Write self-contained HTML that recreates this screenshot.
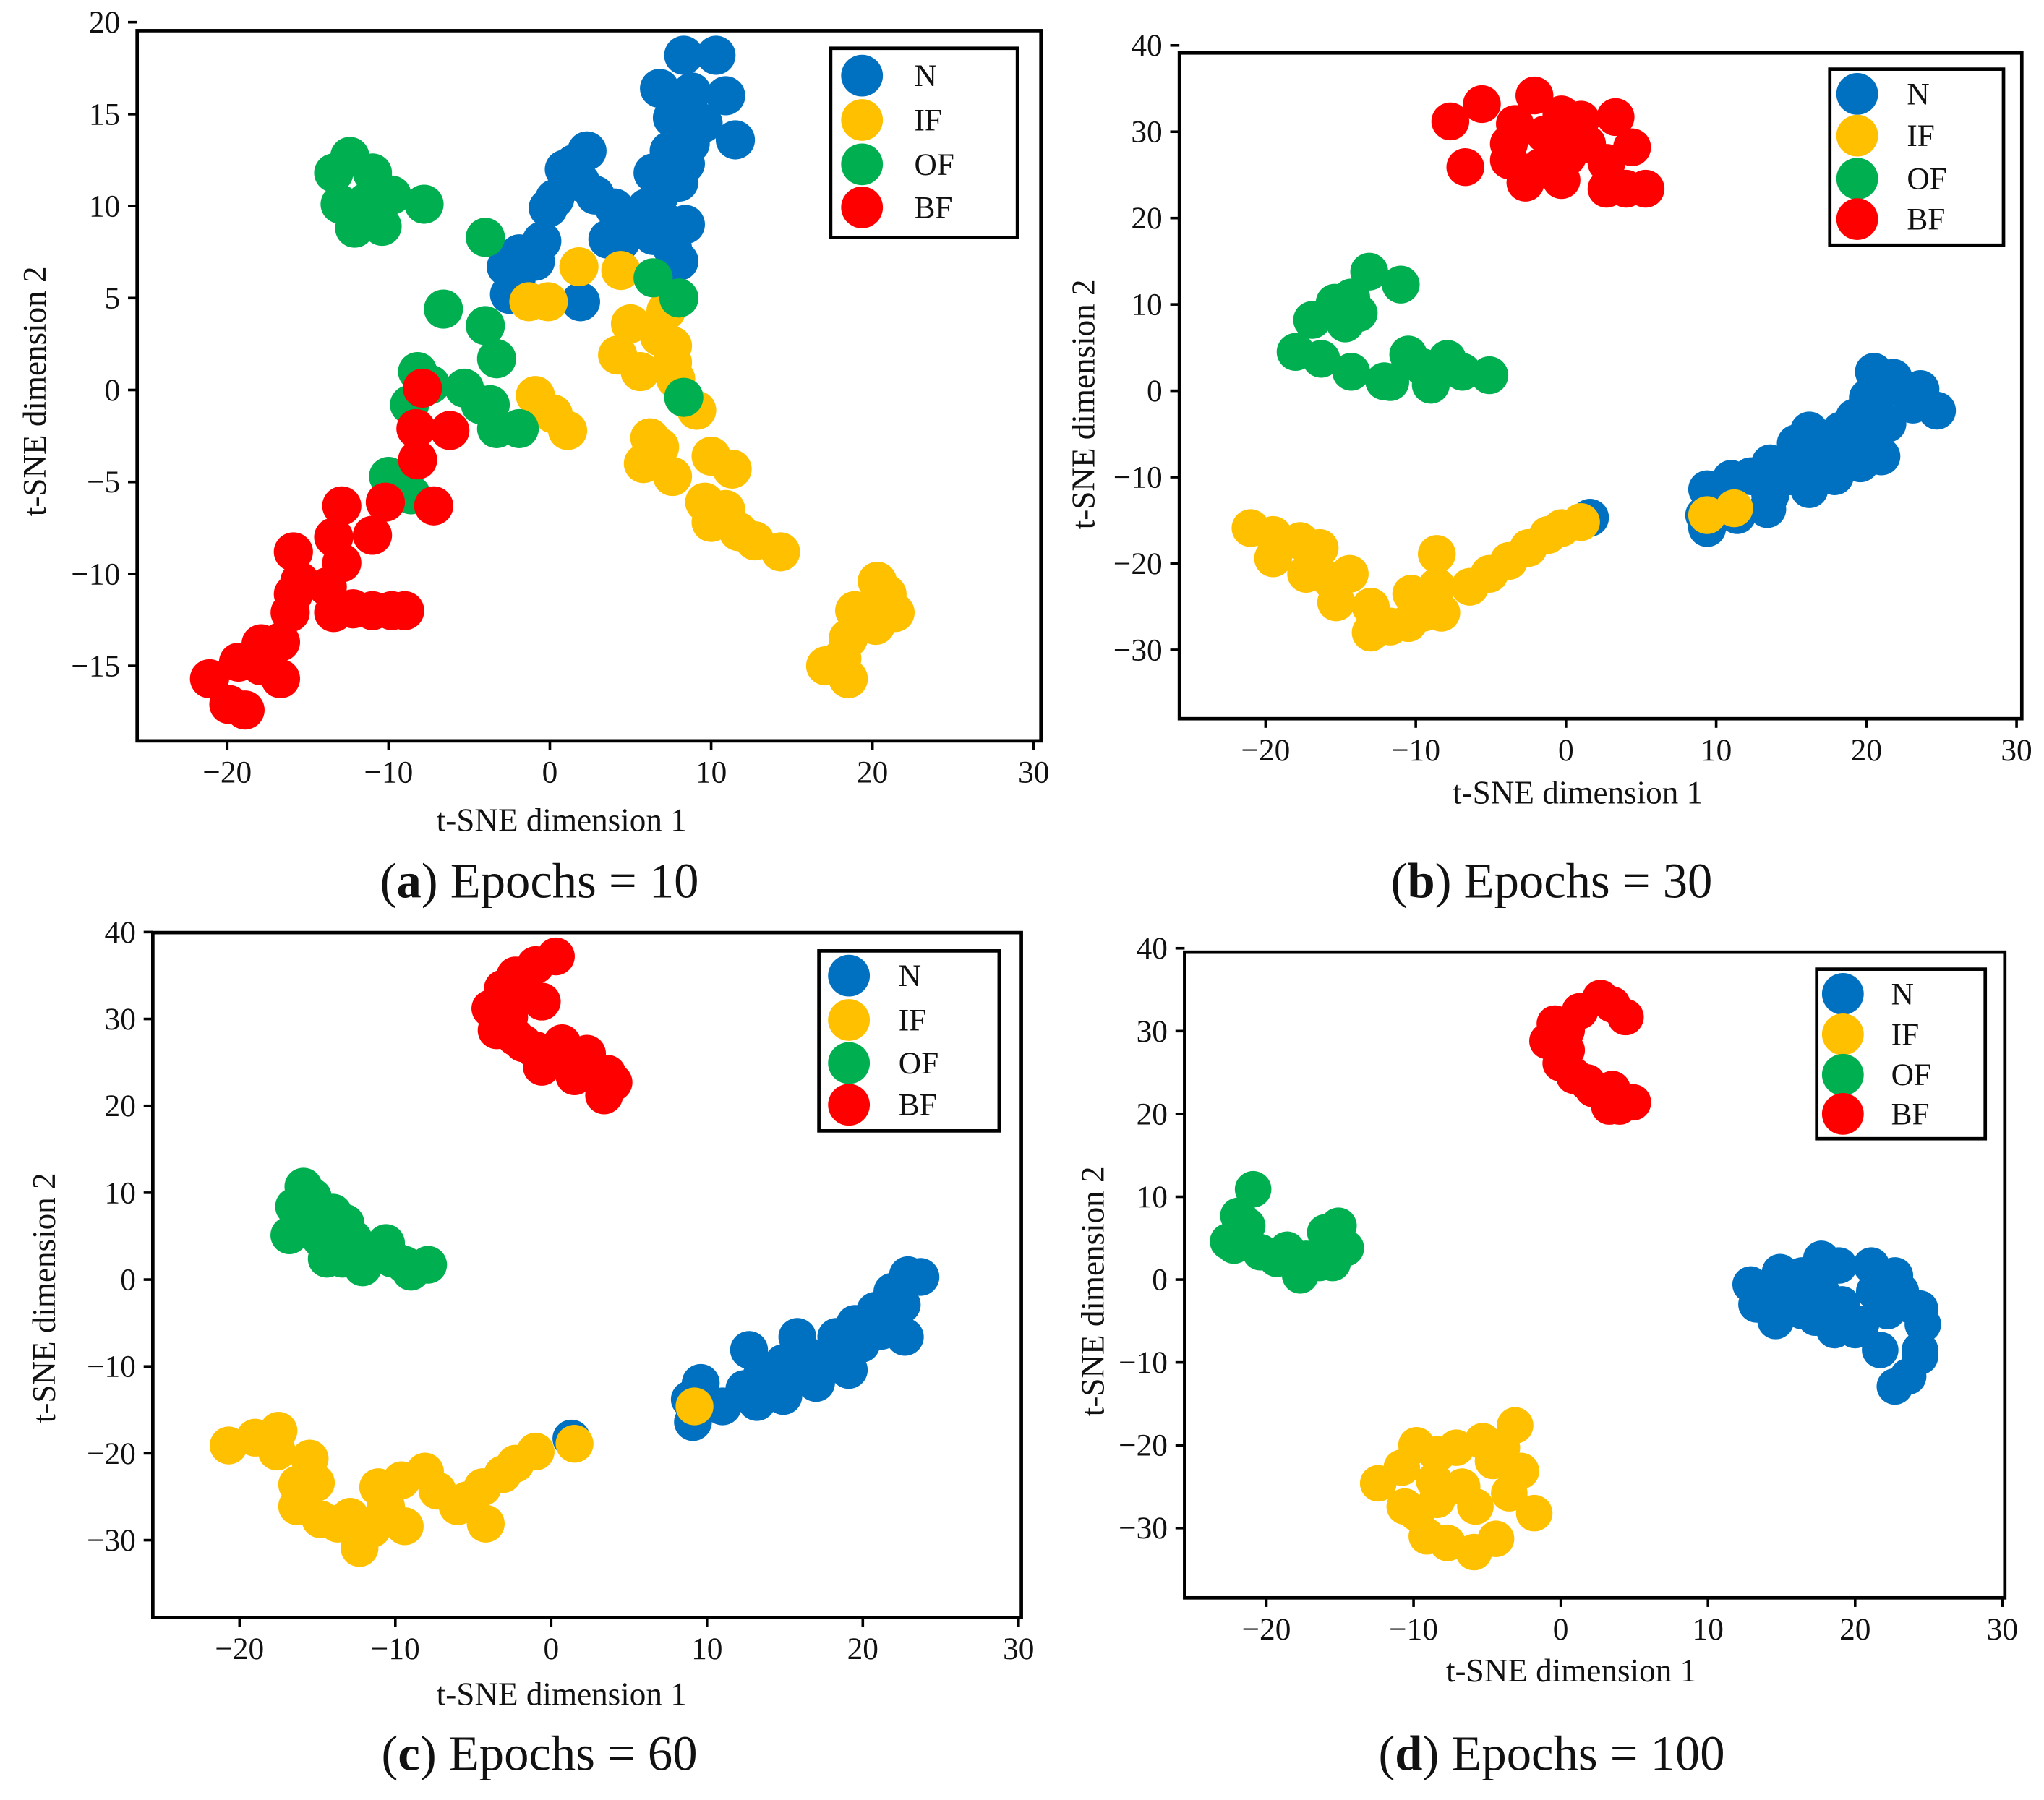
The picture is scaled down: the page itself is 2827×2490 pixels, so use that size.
<!DOCTYPE html>
<html><head><meta charset="utf-8"><style>
html,body{margin:0;padding:0;background:#fff}
svg{display:block}
text{font-family:"Liberation Serif",serif;fill:#111}
</style></head><body>
<svg id="fig" xmlns="http://www.w3.org/2000/svg" width="2827" height="2490" viewBox="0 0 1565 1380" preserveAspectRatio="none"></svg>
<script>
// ---- data (t-SNE coords) ----
const xTicks = [-20,-10,0,10,20,30];
const yTicksA = [20,15,10,5,0,-5,-10,-15];
const yTicksB = [40,30,20,10,0,-10,-20,-30];
const classes = ["N","IF","OF","BF"];
const colors = ["#0070c0","#ffc000","#00b050","#ff0000"];

const a_N = [[8.3,18.2],[10.3,18.2],[6.8,16.4],[8.8,16.2],[10.9,16.0],[7.6,14.8],[9.5,14.5],[11.5,13.6],[8.4,12.3],[6.4,11.8],[2.3,13.0],[0.9,12.0],[1.9,11.3],[0.3,10.4],[-0.1,9.9],[4.0,9.9],[3.6,8.2],[-0.5,8.1],[-1.9,7.4],[-2.7,6.7],[-2.1,6.0],[-0.9,7.0],[-2.5,5.2],[1.9,4.8],[7.2,9.1],[8.4,9.0],[6.4,8.4],[7.6,7.7],[8.0,7.0],[6.0,9.9],[6.8,10.6],[5.2,9.1],[1.5,12.3],[2.8,10.6],[4.4,8.1],[8.0,11.3],[7.4,13.0],[8.7,13.4]];
const a_IF = [[1.8,6.7],[4.4,6.5],[-1.3,4.8],[-0.1,4.8],[5.0,3.6],[7.2,4.3],[6.8,2.9],[4.2,1.9],[5.6,1.0],[7.6,2.4],[7.8,0.6],[-0.9,-0.3],[0.2,-1.3],[1.1,-2.2],[9.1,-1.1],[5.8,-4.0],[6.8,-3.1],[7.6,-4.7],[6.2,-2.6],[10.0,-3.6],[11.3,-4.3],[9.6,-6.1],[10.9,-6.5],[10.0,-7.2],[11.7,-7.7],[12.7,-8.2],[14.3,-8.8],[20.3,-10.4],[20.9,-11.1],[18.9,-12.0],[21.4,-12.1],[18.5,-13.5],[20.2,-12.8],[18.1,-14.6],[17.1,-15.0],[18.5,-15.7],[7.6,1.5]];
const a_OF = [[-13.4,11.8],[-12.4,12.7],[-11.0,11.8],[-13.0,10.1],[-11.4,10.2],[-9.8,10.6],[-12.1,8.8],[-10.4,8.9],[-7.8,10.1],[-6.6,4.4],[-4.0,8.3],[-4.0,3.5],[-3.3,1.7],[-8.2,1.0],[-5.3,0.1],[-7.4,0.3],[-8.7,-0.8],[-4.3,-0.8],[-3.3,-2.1],[-1.9,-2.1],[-10.0,-4.7],[-9.1,-4.9],[6.4,6.1],[8.0,5.0],[8.3,-0.4],[-3.7,-0.8],[-8.6,-5.7]];
const a_BF = [[-7.9,0.1],[-8.3,-2.1],[-6.2,-2.2],[-8.2,-3.8],[-7.2,-6.3],[-12.9,-6.3],[-10.2,-6.1],[-11.0,-7.9],[-13.4,-8.0],[-15.9,-8.8],[-12.9,-9.4],[-15.9,-11.1],[-13.8,-10.7],[-12.2,-11.9],[-11.0,-12.0],[-9.8,-12.0],[-9.0,-12.0],[-13.4,-12.1],[-16.1,-12.1],[-16.7,-13.7],[-17.9,-13.8],[-19.3,-14.8],[-17.9,-15.0],[-16.7,-15.7],[-21.1,-15.7],[-19.9,-17.1],[-18.9,-17.4],[-15.5,-10.4]];

const b_N = [[9.4,-11.4],[11.0,-10.2],[9.2,-14.4],[9.4,-15.9],[11.4,-14.4],[13.6,-8.4],[13.4,-13.7],[15.3,-6.1],[14.9,-9.9],[16.6,-7.6],[16.2,-4.6],[17.5,-6.9],[17.9,-9.9],[18.3,-4.6],[19.2,-3.1],[19.6,-6.1],[20.5,2.2],[20.1,-0.8],[21.0,0.0],[21.4,-3.8],[21.8,1.5],[22.7,0.0],[23.1,-1.6],[23.6,0.2],[24.7,-2.3],[21.0,-7.6],[19.6,-8.4],[16.2,-11.4],[13.6,-12.1],[12.3,-9.9],[1.6,-14.7],[17.0,-9.1],[18.8,-6.9]];
const b_IF = [[-21.0,-15.9],[-19.5,-16.7],[-19.5,-19.4],[-17.7,-17.4],[-16.4,-18.2],[-17.3,-21.2],[-15.6,-22.0],[-15.3,-24.5],[-14.4,-21.2],[-13.0,-25.0],[-13.0,-28.0],[-11.7,-27.3],[-10.5,-26.9],[-10.3,-23.5],[-8.6,-18.9],[-8.6,-22.7],[-8.3,-25.7],[-6.4,-22.7],[-5.1,-21.2],[-3.8,-19.7],[-2.5,-18.2],[-1.2,-16.7],[-0.3,-15.9],[1.0,-15.2],[-9.5,-25.7],[11.2,-13.6],[9.4,-14.4]];
const b_OF = [[-13.1,13.8],[-11.0,12.3],[-14.3,10.8],[-15.4,10.2],[-13.8,9.0],[-14.7,7.8],[-16.9,8.2],[-18.0,4.5],[-16.3,3.7],[-14.3,2.2],[-12.1,1.1],[-10.5,4.2],[-9.5,2.7],[-7.9,3.7],[-6.9,2.2],[-5.1,1.8],[-9.0,0.7],[-11.7,1.0]];
const b_BF = [[-7.7,31.2],[-5.6,33.2],[-2.1,34.2],[-3.4,30.9],[-0.3,32.0],[1.0,31.4],[3.3,31.7],[-3.8,28.6],[-1.4,29.7],[1.4,28.6],[4.4,28.2],[-6.7,25.9],[-3.8,26.7],[-1.7,25.9],[0.1,27.1],[2.7,26.4],[-2.7,24.1],[-0.3,24.4],[2.7,23.4],[4.0,23.4],[5.3,23.4],[-0.8,29.4]];

const c_N = [[8.9,-13.8],[9.6,-11.9],[9.1,-16.4],[11.0,-14.6],[12.7,-8.1],[13.2,-14.1],[13.5,-11.1],[14.9,-9.6],[15.8,-6.6],[16.6,-8.9],[17.0,-11.9],[18.3,-6.6],[18.7,-9.6],[19.5,-5.1],[19.9,-7.4],[20.8,-3.6],[21.2,-5.9],[21.9,-1.4],[22.5,-2.9],[22.7,-6.6],[22.9,0.5],[23.7,0.3],[21.6,-4.4],[19.1,-10.4],[16.2,-11.1],[14.9,-13.4],[12.4,-12.6],[1.3,-18.3]];
const c_IF = [[-20.7,-19.1],[-19.0,-18.2],[-17.5,-17.4],[-17.6,-19.8],[-15.5,-20.6],[-15.1,-23.4],[-16.3,-26.1],[-14.8,-27.6],[-13.7,-28.1],[-12.9,-27.3],[-12.3,-30.9],[-11.5,-28.7],[-10.6,-26.1],[-9.6,-23.1],[-9.4,-28.4],[-8.1,-22.1],[-7.3,-24.3],[-6.0,-26.1],[-5.4,-25.4],[-4.2,-28.1],[-4.4,-23.9],[-3.1,-22.4],[-2.3,-21.2],[-1.0,-19.8],[1.5,-18.9],[-11.1,-23.9],[-16.3,-23.6],[9.2,-14.6]];
const c_OF = [[-15.9,10.7],[-16.5,8.4],[-16.8,5.1],[-15.3,9.5],[-14.0,7.7],[-13.2,6.5],[-14.8,4.7],[-12.7,4.7],[-14.4,2.4],[-11.9,3.2],[-10.6,4.2],[-12.1,1.4],[-10.2,2.4],[-9.0,0.9],[-7.9,1.7],[-9.4,1.7],[-13.4,2.4],[-15.3,6.9]];
const c_BF = [[0.3,37.2],[-1.0,36.2],[-2.3,35.0],[-3.1,33.5],[-3.9,31.2],[-1.8,33.2],[-0.6,32.0],[-2.7,30.2],[-3.5,28.7],[-2.3,27.9],[-1.0,26.4],[0.7,27.2],[-0.6,24.5],[1.1,25.7],[2.3,26.0],[1.5,23.4],[3.6,23.7],[4.0,22.7],[3.4,21.2],[-1.8,27.2]];

const d_N = [[12.9,-0.6],[13.3,-3.0],[14.9,0.9],[15.1,-1.4],[14.6,-5.0],[16.4,0.5],[16.4,-3.8],[17.7,2.5],[17.7,-1.4],[18.9,1.7],[19.1,-3.0],[20.0,-6.1],[21.1,1.7],[21.3,-1.4],[22.2,-3.8],[22.7,0.5],[23.1,-1.4],[23.6,-3.0],[24.4,-3.5],[24.6,-5.4],[24.4,-8.5],[23.6,-11.7],[22.7,-12.9],[21.7,-8.5],[24.4,-9.3],[18.6,-6.1],[17.3,-4.6],[16.0,-2.2],[20.4,-5.4],[13.8,-1.4]];
const d_IF = [[-12.4,-24.6],[-10.8,-22.7],[-9.8,-20.0],[-8.4,-21.1],[-7.1,-20.3],[-5.3,-19.5],[-4.6,-21.9],[-3.1,-17.6],[-4.0,-20.3],[-2.7,-23.1],[-3.5,-25.8],[-1.8,-28.2],[-4.4,-31.3],[-5.9,-32.9],[-7.7,-31.8],[-9.1,-31.0],[-9.8,-28.2],[-10.6,-27.4],[-8.4,-26.6],[-6.7,-25.0],[-5.8,-27.4],[-8.6,-24.3]];
const d_OF = [[-20.9,10.9],[-21.9,7.7],[-22.6,4.6],[-21.3,6.5],[-20.4,3.3],[-18.6,3.6],[-19.3,2.5],[-17.7,0.5],[-16.4,2.0],[-15.5,3.6],[-15.1,6.5],[-16.0,5.7],[-14.6,3.8],[-15.5,2.0],[-17.3,2.5],[-22.2,4.1]];
const d_BF = [[2.7,34.0],[1.3,32.4],[-0.4,30.9],[-0.9,28.8],[0.4,27.7],[4.4,31.7],[3.5,33.2],[0.0,26.1],[0.9,24.6],[2.2,23.0],[3.5,23.0],[4.9,21.4],[4.0,20.9],[3.3,20.9],[1.8,23.8],[0.4,30.1]];

const NS="http://www.w3.org/2000/svg";
const svg=document.getElementById('fig');
function mk(tag,attrs,parent){const e=document.createElementNS(NS,tag);for(const k in attrs)e.setAttribute(k,attrs[k]);(parent||svg).appendChild(e);return e;}
function fmt(v){return v<0?"\u2212"+Math.abs(v):String(v);}

const panels=[
 {id:"a",box:[105,23.5,797,568],x0:421,xs:12.35,y0:299,ys:14.1,yt:yTicksA,r:15,data:[a_N,a_IF,a_OF,a_BF],
  leg:[636,37,779,182],legY:[58,92,126,159],legMx:660,legTx:700,xl:[430,637],yl:[35,300],cap:[413,688],capText:"Epochs = 10",letter:"a"},
 {id:"b",box:[903,40.6,1548,551],x0:1199,xs:11.5,y0:299.6,ys:6.62,yt:yTicksB,r:14.5,data:[b_N,b_IF,b_OF,b_BF],
  leg:[1401,53,1534,188],legY:[72,104,137,168],legMx:1422,legTx:1460,xl:[1208,616],yl:[838,310],cap:[1188,688],capText:"Epochs = 30",letter:"b"},
 {id:"c",box:[117,715,782,1240],x0:422,xs:11.93,y0:981,ys:6.66,yt:yTicksB,r:14.5,data:[c_N,c_IF,c_OF,c_BF],
  leg:[627,729,765,867],legY:[748,782,815,847],legMx:650,legTx:688,xl:[430,1307],yl:[42,995],cap:[413,1357],capText:"Epochs = 60",letter:"c"},
 {id:"d",box:[907,730,1535,1225],x0:1195,xs:11.27,y0:981,ys:6.35,yt:yTicksB,r:14,data:[d_N,d_IF,d_OF,d_BF],
  leg:[1391,743,1520,873],legY:[762,793,824,854],legMx:1411,legTx:1448,xl:[1203,1289],yl:[845,990],cap:[1188,1357],capText:"Epochs = 100",letter:"d"}
];

panels.forEach(p=>{
  const g=mk('g',{});
  
  
  const X=v=>p.x0+v*p.xs, Y=v=>p.y0-v*p.ys;
  const [l,t,r,b]=p.box;
  p.data.forEach((pts,ci)=>{
    const sg=mk('g',{fill:colors[ci]},g);
    
    
    pts.forEach(pt=>{
      const c=mk('circle',{cx:X(pt[0]),cy:Y(pt[1]),r:p.r},sg);
      
      
    });
  });
  const fr=mk('rect',{x:l,y:t,width:r-l,height:b-t,fill:'none',stroke:'#000','stroke-width':2.6},g);
  
  
  xTicks.forEach(v=>{
    const x=X(v);
    const tk=mk('line',{x1:x,y1:b,x2:x,y2:b+7,stroke:'#000','stroke-width':2},g);
    
    
    const tx=mk('text',{x:x,y:b+32,'text-anchor':'middle','font-size':24},g);
    tx.textContent=fmt(v);
    
    
  });
  p.yt.forEach(v=>{
    const y=Y(v);
    const tk=mk('line',{x1:l-7,y1:y,x2:l,y2:y,stroke:'#000','stroke-width':2},g);
    
    
    const tx=mk('text',{x:l-13,y:y+8,'text-anchor':'end','font-size':24},g);
    tx.textContent=fmt(v);
    
    
  });
  const xt=mk('text',{x:p.xl[0],y:p.xl[1],'text-anchor':'middle','font-size':25},g);
  xt.textContent='t-SNE dimension 1';
  
  
  const yt=mk('text',{x:p.yl[0],y:p.yl[1],'text-anchor':'middle','font-size':25,transform:`rotate(-90 ${p.yl[0]} ${p.yl[1]})`},g);
  yt.textContent='t-SNE dimension 2';
  
  
  const lg=mk('g',{},g);
  
  
  const [ll,lt,lr,lb]=p.leg;
  mk('rect',{x:ll,y:lt,width:lr-ll,height:lb-lt,fill:'#fff',stroke:'#000','stroke-width':2.6},lg);
  classes.forEach((cn,i)=>{
    const m=mk('circle',{cx:p.legMx,cy:p.legY[i],r:16,fill:colors[i]},lg);
    
    
    const tx=mk('text',{x:p.legTx,y:p.legY[i]+8,'font-size':24},lg);
    tx.textContent=cn;
    
    
  });
  const cap=mk('text',{x:p.cap[0],y:p.cap[1],'text-anchor':'middle','font-size':38},g);
  
  
  const t1=mk('tspan',{},cap);t1.textContent='(';
  const t2=mk('tspan',{'font-weight':'bold'},cap);t2.textContent=p.letter;
  const t3=mk('tspan',{},cap);t3.textContent=') '+p.capText;
});
</script>
</body></html>
